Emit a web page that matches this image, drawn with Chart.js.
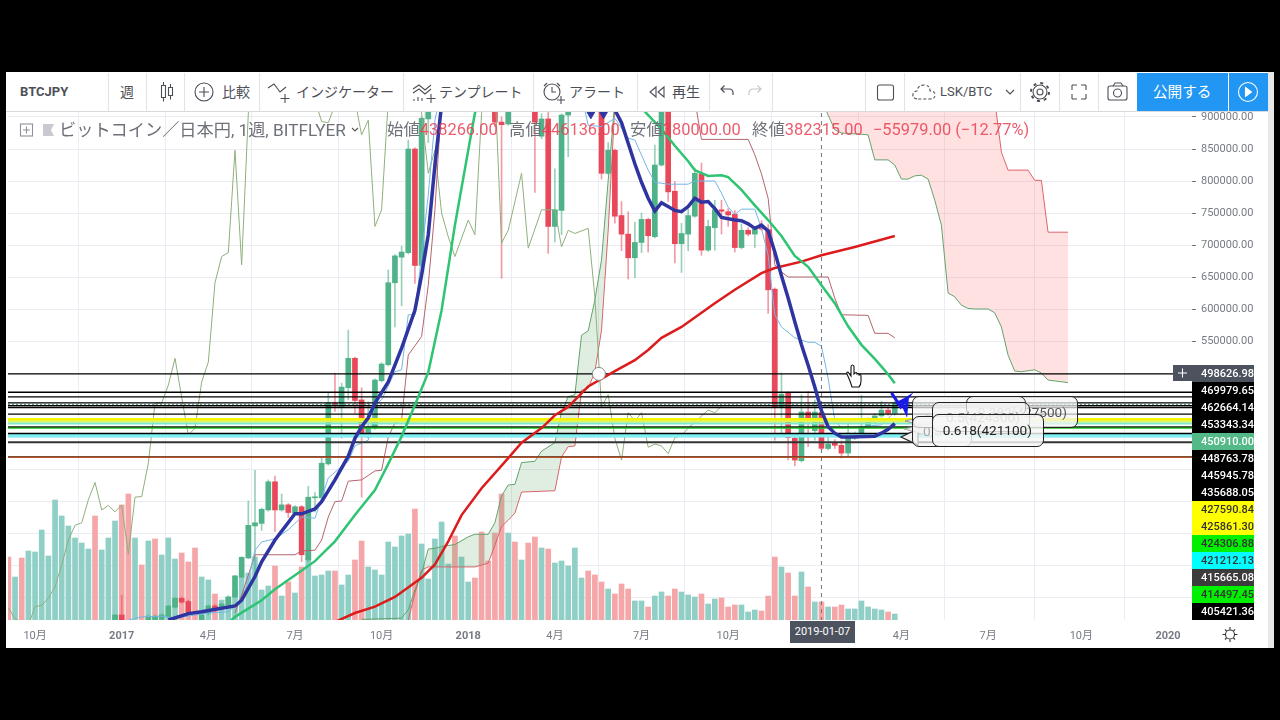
<!DOCTYPE html>
<html>
<head>
<meta charset="utf-8">
<title>BTCJPY</title>
<script src="https://cdn.jsdelivr.net/npm/chart.js@4/dist/chart.umd.min.js"></script>
<style>
	html, body { margin:0; padding:0; background:#000; overflow:hidden; font-family:Roboto,"Noto Sans CJK JP",sans-serif; }
	#panel { position:absolute; left:6px; top:72px; width:1262px; height:576px; background:#fff; }
	#strip { position:absolute; left:1268px; top:72px; width:6px; height:576px; background:#e8e8ea; }
	#bar { position:absolute; left:6px; top:73px; width:1262px; height:39px; border-bottom:1px solid #d8dade; box-sizing:border-box; background:#fff; }
	#c { position:absolute; left:0; top:0; }
	#icons { position:absolute; left:0; top:0; }
	.t { position:absolute; white-space:nowrap; color:#4d4f57; font-size:14px; line-height:18px; }
	.legend { font-size:16.4px; line-height:20px; color:#6f717a; }
	.red { color:rgba(232,64,84,.85); }
	#levels { position:absolute; left:1192px; top:364.5px; width:62px; }
	#levels div { height:17px; line-height:17px; font-size:11px; font-weight:500; padding-left:9px; box-sizing:border-box; }
	.fib { position:absolute; border:1.5px solid #222; border-radius:7px; box-sizing:border-box; background:rgba(245,245,245,.72); font-size:13.6px; text-align:right; }
</style>
</head>
<body>
<div id="panel"></div>
<div id="strip"></div>
<canvas id="c" width="1280" height="720"></canvas>
<div id="bar"></div>
<div class="t legend" style="left:59px;top:120px;font-size:17.2px">ビットコイン／日本円, 1週, BITFLYER</div>
<div class="t legend" style="left:387px;top:120px">始値<span class="red">438266.00</span></div>
<div class="t legend" style="left:509px;top:120px">高値<span class="red">446136.00</span></div>
<div class="t legend" style="left:630px;top:120px">安値<span class="red">380000.00</span></div>
<div class="t legend" style="left:752px;top:120px">終値<span class="red">382315.00</span></div>
<div class="t legend red" style="left:873px;top:120px">−55979.00 (−12.77%)</div>
<div class="t" style="left:20px;top:83px;font-weight:700;font-size:13px">BTCJPY</div>
<div class="t" style="left:120px;top:83px">週</div>
<div class="t" style="left:222px;top:83px">比較</div>
<div class="t" style="left:296px;top:83px">インジケーター</div>
<div class="t" style="left:439px;top:83px">テンプレート</div>
<div class="t" style="left:569px;top:83px">アラート</div>
<div class="t" style="left:672px;top:83px">再生</div>
<div class="t" style="left:940px;top:83px;font-size:13px">LSK/BTC</div>
<div style="position:absolute;left:1137px;top:73px;width:91px;height:38px;background:#2196f3"></div>
<div style="position:absolute;left:1229px;top:73px;width:39px;height:38px;background:#2196f3"></div>
<div class="t" style="left:1153px;top:83px;color:#fff;font-size:14.6px">公開する</div>
<div id="levels"></div>
<div style="position:absolute;left:1173px;top:365px;width:19px;height:16px;background:#4c525e"></div>
<div style="position:absolute;left:790px;top:621px;width:65px;height:22px;background:#4c525e;color:#fff;font-size:11px;line-height:21px;text-align:center">2019-01-07</div>
<svg id="tails" width="1280" height="720" style="position:absolute;left:0;top:0">
	<polygon points="901,437 918,429 918,445" fill="#f2f2f2" stroke="#222" stroke-width="1.2"/>
	<polygon points="905,421 934,414 934,428" fill="#eee" stroke="#999" stroke-width="1"/>
	<polygon points="904,429 934,423 934,437" fill="#e8e8e8" stroke="#aaa" stroke-width="1"/>
</svg>
<div class="fib" style="left:912px;top:396px;width:166px;height:32px;line-height:30px;padding-right:10px;color:#555">0.382(427500)</div>
<div class="fib" style="left:966px;top:396px;width:60px;height:20px;background:rgba(240,240,240,.6)"></div>
<div class="fib" style="left:912px;top:416px;width:60px;height:31px;line-height:29px;color:#aaa;text-align:left;padding-left:10px">0.5</div>
<div class="fib" style="left:932px;top:402px;width:98px;height:30px;line-height:28px;padding-right:9px;color:#8a8a8a">0.5(424300)</div>
<div class="fib" style="left:932px;top:414px;width:112px;height:33px;line-height:31px;padding-right:11px;color:#222;background:rgba(246,246,246,.82)">0.618(421100)</div>
<svg id="icons" width="1280" height="720" fill="none" stroke="#4d4f57" stroke-width="1.1">
	<g stroke="#e2e3e7"><path d="M108.5 73V111M146.5 73V111M184.5 73V111M259.5 73V111M403.5 73V111M533.5 73V111M637.5 73V111M709.5 73V111M772.5 73V111M865.5 73V111M904.5 73V111M1020.5 73V111M1059.5 73V111M1098.5 73V111"/></g>
	<path d="M161.5 85.5h4v12h-4zM168.500 87.500h4v8h-4zM163.500 82v3.500M163.500 97.500v4M170.500 84v3.500M170.500 95.500v4"/>
	<circle cx="204" cy="92" r="9"/><path d="M199 92h10M204 87v10"/>
	<path d="M268 88l6-4 6 8 6-5M285 94v9M280.500 98.500h9"/>
	<path d="M413 89l6-4 6 5 6-5M413 93l6-4 6 5 6-5M414 101v-2M418 101v-4M422 101v-3M431 94v9M426.500 98.500h9"/>
	<circle cx="552" cy="92" r="8"/><path d="M552 87v5h4M544 86l3-3M560 86l-3-3M561 96v8M557 100h8"/>
	<path d="M656 87l-6 5 6 5zM664 87l-6 5 6 5z"/>
	<path d="M721 89h8q4 0 4 4v2M724.500 85.500l-3.500 3.500 3.500 3.500" stroke-width="1.2"/>
	<path d="M761 89h-8q-4 0-4 4v2M757.500 85.500l3.500 3.500-3.500 3.500" stroke="#c6c8ce" stroke-width="1.2"/>
	<rect x="877.500" y="85" width="16" height="15" rx="2"/>
	<path d="M917 99q-5-1-4-5 1-3 4-3 1-6 7-6 6 0 6 6 5 0 5 4 0 4-5 4z" stroke-dasharray="3 2"/>
	<path d="M1006 90l4 4 4-4"/>
	<circle cx="1040" cy="92" r="3"/><circle cx="1040" cy="92" r="7"/><circle cx="1040" cy="92" r="9" stroke-dasharray="3 4.070" stroke-width="2"/>
	<path d="M1072 85h5M1072 85v5M1086 85h-5M1086 85v5M1072 99h5M1072 99v-5M1086 99h-5M1086 99v-5"/>
	<rect x="1108" y="86" width="19" height="14" rx="2"/><circle cx="1117.500" cy="93" r="4"/><path d="M1113 86l2-3h6l2 3"/>
	<circle cx="1248" cy="92" r="9.500" stroke="#fff"/><path d="M1245.500 87.500l6 4.500-6 4.500z" fill="#fff" stroke="#fff"/>
	<rect x="20.500" y="124" width="12" height="12" stroke="#8f9199"/><path d="M23 130h7M26.500 126.500v7" stroke="#8f9199"/>
	<path d="M43 124h11l-3 6 3 6h-11z" fill="#c9cad0" stroke="none"/>
	<path d="M352 128l3 3 3-3" stroke="#555"/>
	<path d="M1178 373h9M1182.500 368.500v9" stroke="#fff"/>
	<circle cx="1230" cy="634.500" r="4.500" stroke="#333"/><path d="M1230 627v2.500M1230 639.500v2.500M1222.500 634.500h2.500M1235 634.500h2.500M1225 629.500l1.500 1.500M1233.500 638l1.500 1.500M1225 639.500l1.500-1.500M1233.500 631l1.500-1.500" stroke="#333"/>
	<path d="M850 381l-3-7q-1-2 1-2l3 4v-9q0-2 1.500-2t1.500 2v7l1-1q2-1 2 1 2-1 2 1 2-1 2 1v5q0 4-2 6h-7z" fill="#fff" stroke="#111"/>
</svg>
<script>
// weeks are counted from 2016-09-05, prices are in thousand yen
var xTickWeeks = [4, 17, 30, 43, 56, 69, 82, 95, 108, 121, 134, 147, 161, 174];
var xTickLabels = ['10月', '2017', '4月', '7月', '10月', '2018', '4月', '7月', '10月', '2019', '4月', '7月', '10月', '2020'];
var yTicks = [150, 200, 250, 300, 350, 400, 450, 500, 550, 600, 650, 700, 750, 800, 850, 900];

var candleWeeks = [16,17,21,22,23,24,25,26,27,29,30,31,32,33,34,35,36,37,38,39,40,41,42,43,44,45,46,47,48,49,50,51,52,53,54,55,56,57,58,59,60,61,62,63,73,74,75,79,80,81,82,83,84,89,90,91,92,93,94,95,96,97,98,99,100,101,102,103,104,105,106,107,108,109,110,111,112,113,114,115,116,117,118,119,120,121,122,123,124,125,126,127,128,129,130,131,132,133];
var opens = [114,122,112,113,115,119,134,148,143,112,125,136,133,137,150,181,211,261,265,286,330,286,294,281,291,208,305,305,358,453,448,477,523,458,400,414,488,513,641,681,688,850,668,897,960,892,889,960,870,897,729,754,903,930,812,848,746,717,680,704,740,713,825,920,784,702,717,745,811,692,727,755,752,748,696,723,717,729,724,631,446,469,398,363,439,410,438.3,382,391,387,375,398,405,416,424,433,442,437];
var highs = [122,153,122,122,124,137,150,150,145,124,138,138,141,152,184,213,300,348,289,333,339,311,296,293,293,323,313,369,470,500,484,567,525,477,455,491,516,661,685,698,864,852,900,980,980,900,980,980,905,910,819,905,940,950,860,850,768,752,736,750,742,856,940,940,799,734,756,820,828,739,770,770,757,754,733,727,726,738,732,633,500,471,400,466,471,458,446.1,406,396,394,426,408,465,430,437,456,445,456];
var lows = [110,110,110,110,110,117,133,140,122,110,122,127,131,135,149,180,210,187,254,284,252,284,274,278,205,205,283,303,356,440,398,458,437,306,398,412,486,511,572,605,686,640,666,860,885,648,887,782,866,687,705,716,838,803,810,734,691,647,649,688,689,711,823,768,672,657,691,743,684,690,692,717,729,689,694,714,696,723,593,395,406,364,355,361,385,395,380,380,382,367,368,396,403,414,422,431,434,434];
var closes = [122,112,120,120,122,136,148,142,126,122,136,130,139,150,183,212,262,266,287,330,286,294,282,291,216,306,306,359,453,450,478,523,457,402,416,489,514,641,683,689,850,668,898,960,892,888,960,892,897,729,755,903,920,812,848,745,717,680,704,740,714.5,825,920,783,702,718,746,812,692,729,755,752.7,747,696,723,717,724.5,725,630,446,467,399,364,439,424,439,382.3,389,387,374.8,406,400,416,424,433,442,437,453];

// volume, one value per week from week 0
var volumes = [63,43,62,69,68,90,64,120,104,94,82,77,71,104,70,82,99,115,126,82,55,79,81,65,82,61,67,58,72,43,40,26,20,23,30,43,47,63,30,34,54,24,38,27,53,70,44,45,49,49,35,45,60,79,53,50,45,78,73,84,86,111,76,41,81,98,56,84,63,38,42,88,59,87,126,87,78,60,77,83,72,71,57,59,54,72,42,49,45,38,31,26,36,31,19,19,13,24,28,24,31,28,25,23,26,16,21,22,13,15,15,8,10,9,24,63,53,47,24,48,33,18,18,13,13,15,11,11,19,13,11,10,8,6];
var volumeDownWeeks = [0,2,13,17,18,20,22,26,27,28,31,40,42,44,49,52,53,61,67,70,71,72,73,74,76,78,79,81,87,88,89,91,92,93,96,99,100,104,107,108,109,113,114,115,117,118,120,122,124,125,132];

var blueWeeks = [24,27,29,34,35,37,38,40,43,44,46,47,49,51,52,53,54,55,57,59,61,62,63,64,65,66,90,91,92,93,94,95,96,97,98,100,101,102,103,104,105,106,107,109,110,111,112,113,114,115,116,117,118,119,120,121,122,123,124,125,126,130,131,132,133];
var blueValues = [114,124,127,136,145,182,205,239,280,280,287.5,299,333,370,398,416,430,453,486,539,598,653,716,825,919,950,930,911,891,859,827,798,773,753,766,754,752,760,773,767,768,757,743,739,738,733,726,731,722,689,652,617,580,544,512,478,441,416,406,400,400,401,406,412,421];

var greenWeeks = [33,34,38,40,43,46,49,52,55,57,59,61,63,65,67,69,70,71,94,95,96,97,98,100,102,103,105,107,108,110,112,114,116,118,120,122,124,126,128,130,132,133];
var greenValues = [109,119,145,162,184,206,237,278,317,358,401,450,501,598,731,848,906,934,919,914,903,892,881,855,831,817,808,809,806,786,762,739,714,683,666,637,609,573,544,522,498,484];

var redWeeks = [49,52,55,58,62,64,66,68,71,75,77,80,82,84,87,91,94,96,98,101,106,109,113,115,119,122,127,133];
var redValues = [111,125,135,150,180,201,237,278,320,367,391,414,434,447,479,503,520,536,555,572,609,630,656,664,674,684,697,714];

var tenkanWeeks = [18,20,23,25,30,33,35,36,37,38,40,42,44,46,48,50,51,52,54,55,56,58,59,60,61,63,64,65,86,87,89,91,93,94,96,97,99,102,103,106,107,108,109,110,112,113,114,115,116,118,120,121,122,123,124,125,128,131,133];
var tenkanValues = [114,119,120,117,125,127,145,176,223,236,241,255,275,273,336,354,362,386,395,450,458,502,505,591,591,778,895,942,934,887,885,898,867,864,817,798,795,795,800,800,781,759,748,756,756,726,684,591,572,555,548,548,542,492,426,414,416,419,439];

var kijunWeeks = [34,35,36,37,43,44,46,47,48,49,50,51,53,55,56,57,58,59,60,62,63,64,65,103,104,111,112,113,114,115,116,117,123,124,125,129,130,132,133];
var kijunValues = [125,153,184,216,216,222,223,239,275,299,300,331,333,347,348,400,422,427,528,557,637,755,926,926,865,865,841,811,773,669,658,650,650,617,591,590,562,562,555];

var chikouWeeks = [0,1,2,3,4,5,6,7,8,9,10,11,12,13,14,15,16,17,18,19,20,21,22,23,24,25,26,27,28,29,30,31,32,33,34,35,36,37,46,47,48,49,52,53,54,55,56,57,60,61,62,63,64,65,66,67,69,70,71,72,73,74,75,77,78,80,82,83,84,85,87,88,89,90,91,92,93,94,95,96,97,98,99,100,101,102,105,106,107];
var chikouValues = [133,116,111,106,135,137,148,166,200,239,262,266,302,329,286,293,283,294,217,306,307,359,453,453,481,523,462,403,414,486,517,641,682,688,848,669,906,934,926,893,891,919,926,872,895,729,755,926,926,950,906,812,848,750,713,682,739,716,906,950,950,703,723,812,695,755,755,697,723,718,726,619,447,466,398,364,438,425,438,384,389,386,374,399,402,414,442,438,448];

var spanAWeeks = [53,59,60,61,62,63,64,65,67,69,70,72,73,74,75,76,77,79,80,82,83,84,85,86,87,88,89,90,91,100,121,122,123,124,125,128,129,130,132,133,134,135,136,137,138,139,140,141,142,143,144,145,147,148,149,150,151,152,154,155,156,159];
var spanAValues = [115,117,130,161,187,225,226,229,232,244,248,248,266,308,325,326,360,362,378,391,439,463,466,559,566,614,677,801,926,1000,1000,926,903,880,875,873,872,833,833,825,803,803,808,809,803,770,731,625,619,606,601,600,600,594,572,528,503,502,505,500,489,485];

var spanBWeeks = [60,61,62,63,70,71,72,73,74,75,76,77,82,83,84,85,86,87,88,89,90,91,100,147,148,149,150,153,154,155,156,159];
var spanBValues = [114,156,192,197,197,200,203,231,260,270,281,314,316,369,385,386,473,476,502,567,723,919,1000,1000,926,845,817,817,801,801,720,720];

// horizontal levels drawn on the chart
var levelValues = [470, 462.66, 453.34, 448.76, 445.95, 435.69, 427.59, 425.86, 424.31, 421.21, 415.67, 414.5, 405.42, 402.3, 391.7, 368.3, 369.2];
var levelColors = ['#000','#000','#000','#000','#000','#000','#f4f400','#e4f66a','#b6f06a','#7fe8d0','#222','#18c818','#000','#7ff0f4','#333','#b5542a','#222'];
var levelWidths = [1.4,1.4,1.4,1.4,1.4,1.4,2.5,2.5,2,2,1.2,2,1.4,4,2,1.6,1];
var crossPrice = 498.62698;
var crossWeek = 122;
var arrowWeeks = [132.5, 133.9, 134.9, 134, 134.7, 134.9, 133.2];
var arrowValues = [469, 447, 461, 455, 439, 461, 452];
var dropWeeks = [87.4, 89.3];
var dropValues = [905, 905];

// price labels on the right hand side
var sideLabels = ['498626.98','469979.65','462664.14','453343.34','450910.00','448763.78','445945.78','435688.05','427590.84','425861.30','424306.88','421212.13','415665.08','414497.45','405421.36'];
var sideBacks = ['#4c525e','#000','#000','#000','#53b987','#000','#000','#000','#ffff00','#ffff00','#00f000','#00ffff','#3c3c3c','#00f000','#000'];
var sideTexts = ['#fff','#fff','#fff','#fff','#fff','#fff','#fff','#fff','#333','#333','#333','#333','#fff','#333','#fff'];

var levelBox = document.getElementById('levels');
for (var n = 0; n < sideLabels.length; n++) {
	var row = document.createElement('div');
	row.textContent = sideLabels[n];
	row.style.background = sideBacks[n];
	row.style.color = sideTexts[n];
	levelBox.appendChild(row);
}

var xMin = -0.06;
var xMax = 177.6;

function pairs(xs, ys) {
	var out = [];
	for (var i = 0; i < xs.length; i++) {
		out.push({x: xs[i], y: ys[i]});
	}
	return out;
}

function lineSet(xs, ys, color, width, order) {
	return {type: 'line', data: pairs(xs, ys), borderColor: color, borderWidth: width, pointRadius: 0, tension: 0, fill: false, order: order, yAxisID: 'y'};
}

var wickData = [], bodyData = [], wickColors = [], bodyColors = [];
for (var i = 0; i < candleWeeks.length; i++) {
	var up = closes[i] >= opens[i];
	wickData.push({x: candleWeeks[i], y: [lows[i], highs[i]]});
	bodyData.push({x: candleWeeks[i], y: [opens[i], closes[i]]});
	wickColors.push(up ? 'rgba(83,178,138,.6)' : 'rgba(232,72,90,.55)');
	bodyColors.push(up ? '#50b288' : '#e8485a');
}

var volumeData = [], volumeColors = [];
for (var w = 0; w < volumes.length; w++) {
	volumeData.push({x: w, y: volumes[w]});
	volumeColors.push(volumeDownWeeks.indexOf(w) >= 0 ? '#f4a6a8' : '#8fcfc6');
}

var datasets = [
	{type: 'bar', data: volumeData, backgroundColor: volumeColors, barThickness: 5, grouped: false, yAxisID: 'vol', order: 20},
	{type: 'bar', data: wickData, backgroundColor: wickColors, barThickness: 1, grouped: false, yAxisID: 'y', order: 16},
	{type: 'bar', data: bodyData, backgroundColor: bodyColors, barThickness: 5, grouped: false, minBarLength: 1, yAxisID: 'y', order: 15}
];

var spanA = lineSet(spanAWeeks, spanAValues, '#64a36a', 1, 18);
spanA.fill = {target: '+1', above: 'rgba(100,170,110,.2)', below: 'rgba(255,120,120,.22)'};
datasets.push(spanA);
datasets.push(lineSet(spanBWeeks, spanBValues, '#e0606a', 1, 18));
datasets.push(lineSet(chikouWeeks, chikouValues, '#8fb07c', 1, 14));
datasets.push(lineSet(tenkanWeeks, tenkanValues, '#74b6e6', 1, 13));
datasets.push(lineSet(kijunWeeks, kijunValues, '#b5646c', 1, 13));

// crosshair first, then the drawn levels
var crossH = lineSet([xMin, xMax], [crossPrice, crossPrice], '#000', 1.4, 8);
datasets.push(crossH);
var crossV = lineSet([crossWeek, crossWeek], [100, 1000], '#777', 1, 8);
crossV.borderDash = [4, 4];
datasets.push(crossV);
for (var l = 0; l < levelValues.length; l++) {
	datasets.push(lineSet([xMin, xMax], [levelValues[l], levelValues[l]], levelColors[l], levelWidths[l], 7));
}
var dotted = lineSet([xMin, xMax], [450.91, 450.91], '#53a08a', 1, 7);
dotted.borderDash = [2, 2];
datasets.push(dotted);

datasets.push(lineSet(redWeeks, redValues, '#dc1c1c', 2.5, 4));
datasets.push(lineSet(greenWeeks, greenValues, '#2ec472', 2.5, 3));
datasets.push(lineSet(blueWeeks, blueValues, '#2f35a0', 3.5, 2));
datasets.push(lineSet(arrowWeeks, arrowValues, '#1a1ae6', 3, 1));
datasets.push({type: 'line', data: pairs(dropWeeks, dropValues), showLine: false, pointStyle: 'triangle', rotation: 180, pointRadius: 5, pointBackgroundColor: '#2f35a0', pointBorderColor: '#2f35a0', order: 1, yAxisID: 'y'});
datasets.push({type: 'line', data: pairs([88.6], [crossPrice]), showLine: false, pointStyle: 'circle', pointRadius: 6.5, pointBackgroundColor: '#fff', pointBorderColor: '#888', pointBorderWidth: 1, order: 1, yAxisID: 'y'});

var chart = new Chart(document.getElementById('c'), {
	data: {datasets: datasets},
	options: {
		responsive: false,
		animation: false,
		events: [],
		devicePixelRatio: 1,
		layout: {padding: {left: 8, top: 112, right: 12, bottom: 72}},
		plugins: {legend: {display: false}, tooltip: {enabled: false}},
		scales: {
			x: {
				type: 'linear',
				min: xMin,
				max: xMax,
				offset: false,
				border: {display: false},
				grid: {color: '#e9ecf2', drawTicks: false},
				afterBuildTicks: function(axis) {
					axis.ticks = xTickWeeks.map(function(v) { return {value: v}; });
				},
				afterFit: function(axis) { axis.height = 28; },
				ticks: {
					autoSkip: false,
					maxRotation: 0,
					padding: 10,
					color: '#777a84',
					font: function(ctx) {
						var label = xTickLabels[ctx.index];
						return {family: 'Roboto,"Noto Sans CJK JP"', size: 11, weight: label && label.length == 4 ? 'bold' : 'normal'};
					},
					callback: function(value, index) { return xTickLabels[index]; }
				}
			},
			y: {
				type: 'linear',
				position: 'right',
				min: 114.0625,
				max: 907.8125,
				border: {display: false},
				grid: {color: '#e9ecf2', tickLength: 4, tickColor: '#777'},
				afterBuildTicks: function(axis) {
					axis.ticks = yTicks.map(function(v) { return {value: v}; });
				},
				afterFit: function(axis) { axis.width = 76; },
				ticks: {
					padding: 5,
					color: '#777a84',
					font: {family: 'Roboto', size: 11},
					callback: function(value) { return value >= 550 ? (value * 1000).toFixed(2) : ''; }
				}
			},
			vol: {type: 'linear', display: false, position: 'left', min: 0, max: 508}
		}
	}
});
</script>
</body>
</html>
